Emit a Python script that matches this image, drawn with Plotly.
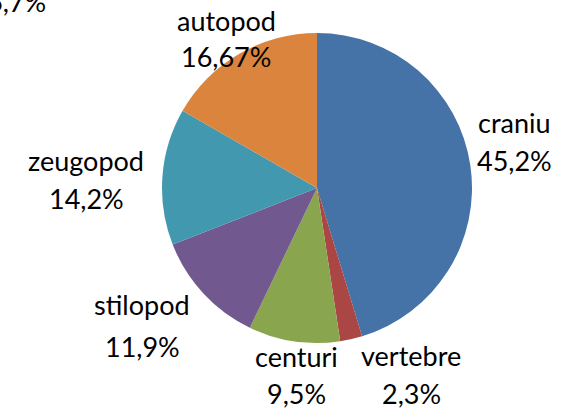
import plotly.graph_objects as go

categories = ["craniu", "vertebre", "centuri", "stilopod", "zeugopod", "autopod"]
values = [45.2, 2.3, 9.5, 11.9, 14.2, 16.67]
value_labels = ["45,2%", "2,3%", "9,5%", "11,9%", "14,2%", "16,67%"]
colors = ["#4572A7", "#AA4643", "#89A54E", "#71588F", "#4198AF", "#DB843D"]

# label positions: (x centre, name line y, value line y) in pixels
label_pos = {
    "craniu": (514, 122, 160),
    "vertebre": (411, 355, 393),
    "centuri": (296, 356, 393),
    "stilopod": (142, 304, 346),
    "zeugopod": (86, 160, 198),
    "autopod": (226, 20, 57),
}

W, H = 561, 411
cx, cy, r = 317, 188, 155
fig = go.Figure()
fig.add_trace(go.Pie(
    labels=categories, values=values, sort=False, direction="clockwise",
    rotation=0, marker=dict(colors=colors, line=dict(width=0)),
    textinfo="none", hoverinfo="label+value", showlegend=False,
    domain=dict(x=[(cx - r) / W, (cx + r) / W], y=[1 - (cy + r) / H, 1 - (cy - r) / H]),
))

font = dict(family="Lato, Open Sans, sans-serif", size=27, color="#000000")
for cat, lab in zip(categories, value_labels):
    px, py1, py2 = label_pos[cat]
    for txt, py in ((cat, py1), (lab, py2)):
        fig.add_annotation(x=px / W, y=1 - py / H, xref="paper", yref="paper",
                           text=txt, showarrow=False, font=font,
                           xanchor="center", yanchor="middle")

# partially visible label from the cropped source at top-left
fig.add_annotation(x=-15 / W, y=1 - 1 / H, xref="paper", yref="paper",
                   text="6,7%", showarrow=False, font=font,
                   xanchor="left", yanchor="middle")

fig.update_layout(width=W, height=H, margin=dict(l=0, r=0, t=0, b=0),
                  paper_bgcolor="white", plot_bgcolor="white")
fig.write_html("out.html", config={"displayModeBar": False},
               post_script="document.body.style.margin='0';document.body.style.overflow='hidden';")
